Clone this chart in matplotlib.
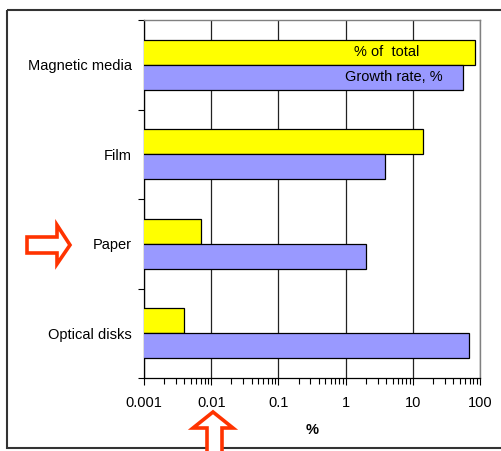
import numpy as np
import matplotlib.pyplot as plt
from matplotlib.patches import Polygon, Rectangle
from matplotlib.transforms import Affine2D

plt.rcParams['font.family'] = ['Liberation Sans', 'DejaVu Sans']

# Media types and the two measures (log scale, %)
categories = ["Magnetic media", "Film", "Paper", "Optical disks"]
share_of_total = [84, 14, 0.007, 0.004]
growth_rate = [55, 3.9, 2.0, 69]
share_label = "% of  total"
growth_label = "Growth rate, %"
xtick_values = [0.001, 0.01, 0.1, 1, 10, 100]
xtick_labels = ["0.001", "0.01", "0.1", "1", "10", "100"]

W, H = 502, 451
fs = 10.5
fig = plt.figure(figsize=(W / 100, H / 100), dpi=100)
ax = fig.add_axes([144 / W, (H - 378) / H, 336 / W, 358 / H])

# pixel coordinates measured from the top-left corner of the figure
px = Affine2D().scale(1 / W, -1 / H).translate(0, 1) + fig.transFigure

y = np.arange(len(categories))
bh = 0.28
ax.barh(y - 0.14, share_of_total, height=bh, color="#FFFF00",
        edgecolor="black", linewidth=0.9, zorder=3)
ax.barh(y + 0.14, growth_rate, height=bh, color="#9999FF",
        edgecolor="black", linewidth=0.9, zorder=3)

ax.text(4.1, -0.14, share_label, ha="center", va="center", fontsize=fs, zorder=4)
ax.text(5.2, 0.14, growth_label, ha="center", va="center", fontsize=fs, zorder=4)

ax.set_xscale("log")
ax.set_xlim(0.001, 100)
ax.set_ylim(len(categories) - 0.5, -0.5)

ax.set_xticks(xtick_values)
ax.set_xticklabels(xtick_labels, fontsize=fs)
ax.tick_params(axis="x", which="major", direction="out", length=5, width=0.8, pad=8)
ax.tick_params(axis="x", which="minor", direction="out", length=4, width=0.8)
ax.set_xlabel("%", fontsize=fs, fontweight="bold", labelpad=9)

ax.set_yticks(y)
ax.set_yticklabels(categories, fontsize=fs)
ax.set_yticks(np.arange(len(categories) + 1) - 0.5, minor=True)
ax.tick_params(axis="y", which="major", length=0, pad=8.5)
ax.tick_params(axis="y", which="minor", direction="out", length=4, width=0.8)

ax.grid(True, axis="x", which="major", color="#222222", linewidth=0.9, zorder=0)
ax.set_axisbelow(True)
for side in ("top", "right"):
    ax.spines[side].set_color("#808080")
    ax.spines[side].set_linewidth(1.0)
for side in ("left", "bottom"):
    ax.spines[side].set_color("black")
    ax.spines[side].set_linewidth(0.9)

# outer chart frame
fig.patches.append(Rectangle((7, 10), 520, 438, transform=px, fill=False,
                             edgecolor="#333333", linewidth=1.5))

# hollow red arrows
red = "#FF3300"
right_arrow = [(27, 237), (57, 237), (57, 225), (70, 245), (57, 264),
               (57, 253), (27, 253)]
up_arrow = [(207, 460), (207, 428), (193, 428), (213, 412), (233, 428),
            (222, 428), (222, 460)]
for pts in (right_arrow, up_arrow):
    fig.patches.append(Polygon(pts, closed=True, transform=px, facecolor="white",
                               edgecolor=red, linewidth=2.6, zorder=5))

fig.savefig("out.png", dpi=100)
